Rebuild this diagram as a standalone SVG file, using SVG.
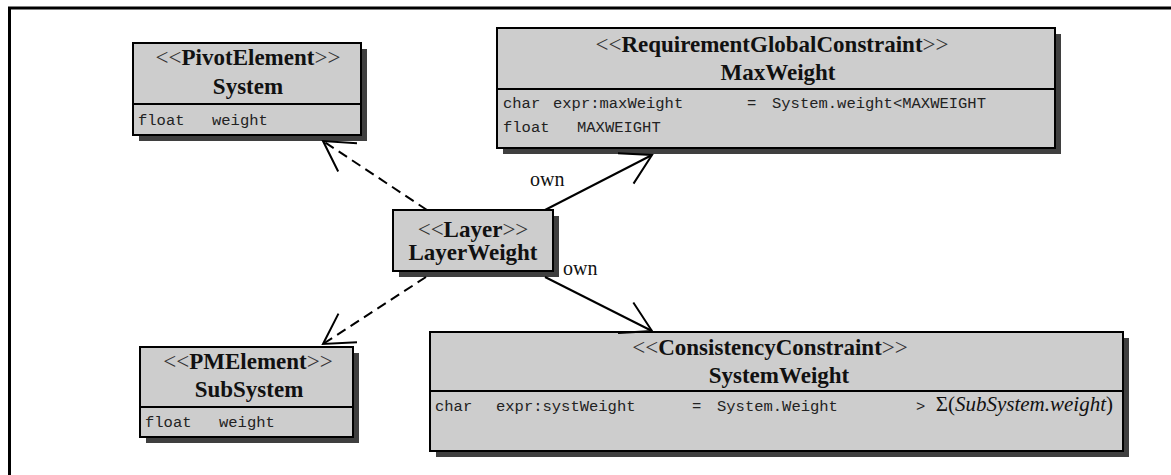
<svg xmlns="http://www.w3.org/2000/svg" width="1171" height="475" viewBox="0 0 1171 475">
  <style>
    .shadow { fill: #3f3f3f; }
    .box { fill: #cdcdcd; stroke: #000; stroke-width: 2; }
    .sep { stroke: #000; stroke-width: 2; }
    .stereo { font-family: "Liberation Serif", serif; font-size: 23px; text-anchor: middle; fill: #111; }
    .stereo .br { font-weight: normal; fill: #333; }
    .stereo .nm { font-weight: bold; }
    .name { font-family: "Liberation Serif", serif; font-size: 23px; font-weight: bold; text-anchor: middle; fill: #111; }
    .attr { font-family: "Liberation Mono", monospace; font-size: 15.5px; fill: #222; }
    .lbl { font-family: "Liberation Serif", serif; font-size: 20px; fill: #111; }
    .math { font-family: "Liberation Serif", serif; font-size: 21px; fill: #111; }
    .link { fill: none; stroke: #000; stroke-width: 2; }
    .dep { stroke-dasharray: 10 6; }
  </style>
  <defs>
    <marker id="open" markerUnits="userSpaceOnUse" markerWidth="40" markerHeight="40" viewBox="-36 -20 40 40" refX="0" refY="0" orient="auto">
      <path d="M -29.5 -17 L 0 0 L -29.5 17" fill="none" stroke="#000" stroke-width="2"/>
    </marker>
  </defs>

  <!-- outer frame -->
  <rect x="9.5" y="8" width="1200" height="500" fill="#fff" stroke="#000" stroke-width="3"/>

  <!-- System -->
  <g id="system">
    <rect class="shadow" x="139" y="49" width="228" height="92"/>
    <rect class="box" x="133" y="43" width="228" height="92"/>
    <line class="sep" x1="133" y1="104" x2="361" y2="104"/>
    <text class="stereo" x="248" y="65"><tspan class="br">&lt;&lt;</tspan><tspan class="nm">PivotElement</tspan><tspan class="br">&gt;&gt;</tspan></text>
    <text class="name" x="248" y="94">System</text>
    <text class="attr" x="138" y="125">float</text>
    <text class="attr" x="212" y="125">weight</text>
  </g>

  <!-- MaxWeight -->
  <g id="maxweight">
    <rect class="shadow" x="503" y="34" width="558" height="120"/>
    <rect class="box" x="497" y="28" width="558" height="120"/>
    <line class="sep" x1="497" y1="89" x2="1055" y2="89"/>
    <text class="stereo" x="772" y="52"><tspan class="br">&lt;&lt;</tspan><tspan class="nm">RequirementGlobalConstraint</tspan><tspan class="br">&gt;&gt;</tspan></text>
    <text class="name" x="778" y="80">MaxWeight</text>
    <text class="attr" x="503" y="108">char</text>
    <text class="attr" x="553" y="108">expr:maxWeight</text>
    <text class="attr" x="747" y="108">=</text>
    <text class="attr" x="772" y="108">System.weight&lt;MAXWEIGHT</text>
    <text class="attr" x="503" y="132">float</text>
    <text class="attr" x="577" y="132">MAXWEIGHT</text>
  </g>

  <!-- LayerWeight -->
  <g id="layerweight">
    <rect class="shadow" x="399" y="216" width="160" height="61"/>
    <rect class="box" x="393" y="210" width="160" height="61"/>
    <text class="stereo" x="473" y="237"><tspan class="br">&lt;&lt;</tspan><tspan class="nm">Layer</tspan><tspan class="br">&gt;&gt;</tspan></text>
    <text class="name" x="473" y="260">LayerWeight</text>
  </g>

  <!-- SubSystem -->
  <g id="subsystem">
    <rect class="shadow" x="146" y="353" width="213" height="90"/>
    <rect class="box" x="140" y="347" width="213" height="90"/>
    <line class="sep" x1="140" y1="407" x2="353" y2="407"/>
    <text class="stereo" x="248" y="369"><tspan class="br">&lt;&lt;</tspan><tspan class="nm">PMElement</tspan><tspan class="br">&gt;&gt;</tspan></text>
    <text class="name" x="249" y="397">SubSystem</text>
    <text class="attr" x="145" y="427">float</text>
    <text class="attr" x="219" y="427">weight</text>
  </g>

  <!-- SystemWeight -->
  <g id="systemweight">
    <rect class="shadow" x="436" y="338" width="693" height="119"/>
    <rect class="box" x="430" y="332" width="693" height="119"/>
    <line class="sep" x1="430" y1="391" x2="1123" y2="391"/>
    <text class="stereo" x="770" y="355"><tspan class="br">&lt;&lt;</tspan><tspan class="nm">ConsistencyConstraint</tspan><tspan class="br">&gt;&gt;</tspan></text>
    <text class="name" x="779" y="383">SystemWeight</text>
    <text class="attr" x="435" y="411">char</text>
    <text class="attr" x="496" y="411">expr:systWeight</text>
    <text class="attr" x="692" y="411">=</text>
    <text class="attr" x="717" y="411">System.Weight</text>
    <text class="attr" x="916" y="411">&gt;</text>
    <text class="math" x="1113" y="411" text-anchor="end">Σ(<tspan font-style="italic">SubSystem.weight</tspan>)</text>
  </g>

  <!-- connectors -->
  <g id="connectors">
    <line class="link dep" x1="427" y1="210" x2="323" y2="141" marker-end="url(#open)"/>
    <line class="link dep" x1="426" y1="277" x2="323" y2="344" marker-end="url(#open)"/>
    <line class="link" x1="545" y1="210" x2="652" y2="155" marker-end="url(#open)"/>
    <line class="link" x1="545" y1="277" x2="652" y2="331" marker-end="url(#open)"/>
    <text class="lbl" x="530" y="186">own</text>
    <text class="lbl" x="563" y="275">own</text>
  </g>
</svg>
